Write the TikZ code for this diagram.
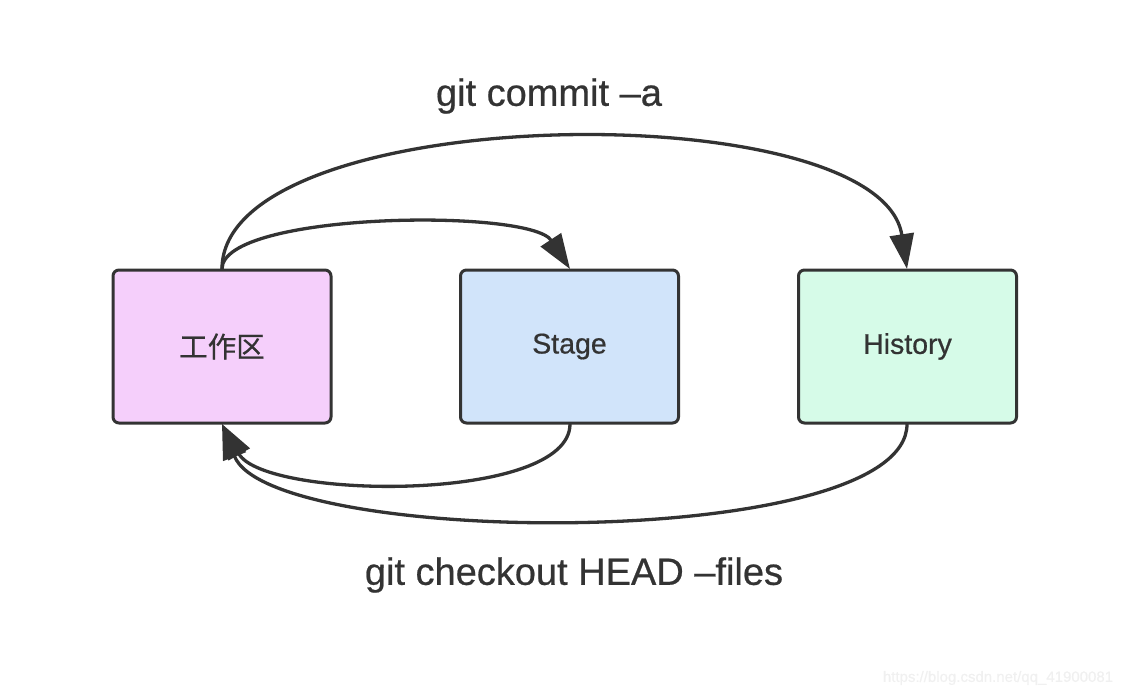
\documentclass[tikz,border=0pt]{standalone}
\usepackage{fontspec}
\setmainfont{Liberation Sans}[FakeBold=0.6]
\newfontfamily\cjk{Noto Sans CJK SC}[FakeBold=0.6]
\usetikzlibrary{arrows.meta}
\definecolor{edge}{HTML}{333333}
\definecolor{pinkfill}{HTML}{F5CFFB}
\definecolor{bluefill}{HTML}{D1E4FA}
\definecolor{greenfill}{HTML}{D6FBE8}
\definecolor{wm}{HTML}{F0F0F0}
\tikzset{
  box/.style={draw=edge, line width=3pt, rounded corners=6pt, minimum width=218pt, minimum height=153pt, inner sep=0pt, text=edge, font=\fontsize{28.5}{32}\selectfont},
  conn/.style={draw=edge, line width=3.3pt, -{Triangle[length=35pt,width=24pt]}},
  lbl/.style={text=edge, font=\fontsize{38}{44}\selectfont, inner sep=0pt}
}
\begin{document}
\begin{tikzpicture}[x=1pt,y=-1pt]
\useasboundingbox (0,0) rectangle (1136,696);
\node[box, fill=pinkfill] (w) at (222,346.5) {\raisebox{-5pt}{\cjk 工作区}};
\node[box, fill=bluefill] (s) at (569.5,346.5) {\raisebox{-5pt}{Stage}};
\node[box, fill=greenfill] (h) at (907.5,346.5) {\raisebox{-5pt}{History}};
\coordinate (wt) at (222,269);
\coordinate (wb) at (222,424);
\coordinate (st) at (570,269);
\coordinate (sb) at (570,424);
\coordinate (ht) at (907,269);
\coordinate (hb) at (907,424);
\draw[conn] (wt) .. controls (222,212) and (530,208) .. (st);
\draw[conn] (wt) .. controls (222,100) and (880,92) .. (ht);
\draw[conn] (sb) .. controls (570,503) and (265,500) .. (wb);
\draw[conn] (hb) .. controls (907,552) and (270,548) .. (wb);
\node[lbl] (t1) at (549,96) {git commit –a};
\node[lbl] (t2) at (574,575) {git checkout HEAD –files};
\node[text=wm, font=\fontsize{15}{18}\selectfont, inner sep=0pt] (wmk) at (998,678) {https://blog.csdn.net/qq\_41900081};
\end{tikzpicture}
\end{document}
